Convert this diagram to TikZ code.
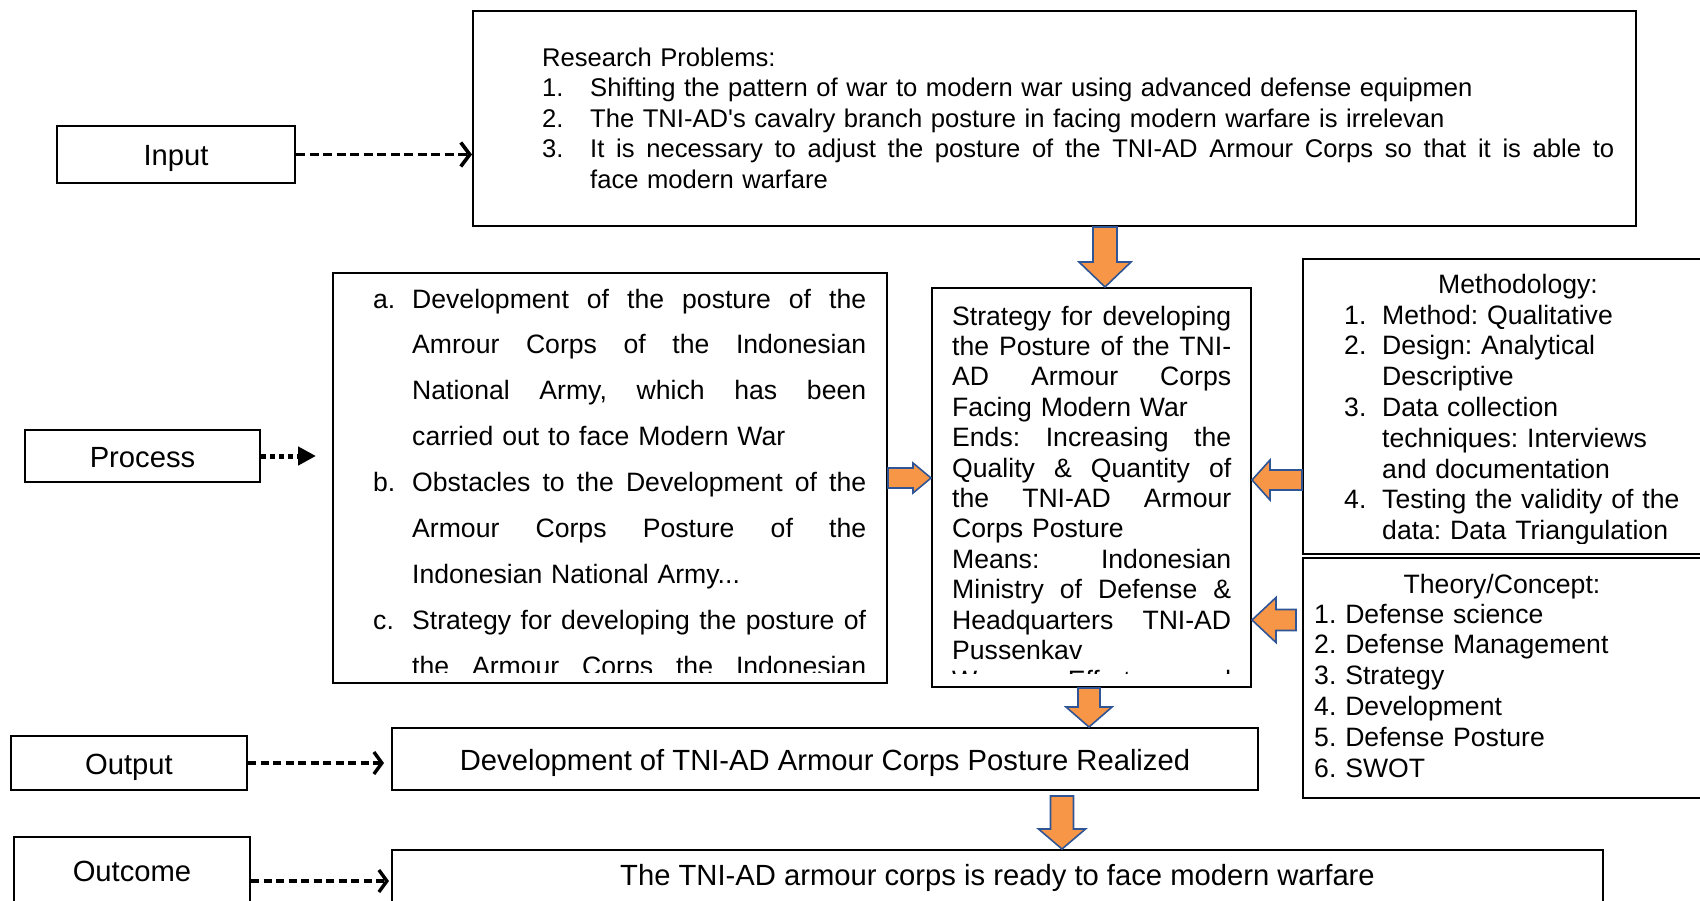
\documentclass[tikz,border=0pt]{standalone}
\usepackage{fontspec}
\setmainfont{Liberation Sans}
\usetikzlibrary{calc,arrows.meta}

\definecolor{arrfill}{HTML}{F79646}
\definecolor{arrline}{HTML}{2F5597}
\frenchspacing

% justified line of given width, hanging label + left / justified line
\newcommand{\jline}[2]{{\spaceskip=0.278em plus 1fil\relax\makebox[#1][s]{#2}}}
\newcommand{\hangl}[3]{\makebox[#1][l]{#2}#3}
\newcommand{\hangj}[4]{\makebox[#1][l]{#2}\jline{#3}{#4}}
% block arrow: tail, tip, shaft half width, head half width, head length
\newcommand{\blockarrow}[5]{%
  \path ($(#2)!#5!(#1)$) coordinate (hb);
  \draw[barrow] ($(#1)!#3!90:(#2)$) -- ($(hb)!#3!90:(#2)$) -- ($(hb)!#4!90:(#2)$)
    -- (#2) -- ($(hb)!#4!-90:(#2)$) -- ($(hb)!#3!-90:(#2)$) -- ($(#1)!#3!-90:(#2)$) -- cycle;}

\begin{document}
\begin{tikzpicture}[x=1pt, y=-1pt,
    box/.style={draw, line width=2pt, inner sep=0pt},
    lbl/.style={box, font=\fontsize{29.2pt}{34pt}\selectfont, text height=22pt, text depth=0pt},
    txt/.style={inner sep=0pt, anchor=base west, align=left},
    barrow/.style={fill=arrfill, draw=arrline, line width=1.6pt, line join=miter},
    dasharrow/.style={line width=3.6pt, dash pattern=on 9pt off 4.5pt, -{Straight Barb[length=9pt, width=24pt]}},
    dasharrowb/.style={line width=3.4pt, dash pattern=on 8pt off 4.5pt, -{Straight Barb[length=8pt, width=22pt]}},
    dotarrow/.style={line width=5pt, dash pattern=on 5pt off 4pt, -{Triangle[length=18pt, width=18pt]}}]
  \useasboundingbox (0,0) rectangle (1700,900);

  % left column
  \node[lbl, minimum width=238pt, minimum height=57pt] (input) at (176,154.5) {Input};
  \node[lbl, minimum width=235pt, minimum height=52pt] (process) at (142.5,456) {Process};
  \node[lbl, minimum width=236pt, minimum height=54pt] (output) at (129,763) {Output};
  \node[lbl, minimum width=236pt, minimum height=66pt] (outcome) at (132,870) {Outcome};

  % research problems
  \node[box, minimum width=1163pt, minimum height=215pt] (res) at (1054.5,118.5) {};
  \node[txt, text width=1072pt, font=\fontsize{25.6pt}{30.5pt}\selectfont] (restext) at (542,66) {%
    Research Problems:\\
    \hangl{48pt}{1.}{Shifting the pattern of war to modern war using advanced defense equipmen}\\
    \hangl{48pt}{2.}{The TNI-AD\textquotesingle s cavalry branch posture in facing modern warfare is irrelevan}\\
    \hangj{48pt}{3.}{1024pt}{It is necessary to adjust the posture of the TNI-AD Armour Corps so that it is able to}\\
    \hspace*{48pt}face modern warfare};

  % process content
  \node[box, minimum width=554pt, minimum height=410pt] (proc) at (610,478) {};
  \begin{scope}
    \clip (335,275) rectangle (885,672);
    \node[txt, text width=493pt, font=\fontsize{26.6pt}{45.9pt}\selectfont] (proctext) at (373,308) {%
      \hangj{39pt}{a.}{454pt}{Development of the posture of the}\\
      \hangj{39pt}{}{454pt}{Amrour Corps of the Indonesian}\\
      \hangj{39pt}{}{454pt}{National Army, which has been}\\
      \hangl{39pt}{}{carried out to face Modern War}\\
      \hangj{39pt}{b.}{454pt}{Obstacles to the Development of the}\\
      \hangj{39pt}{}{454pt}{Armour Corps Posture of the}\\
      \hangl{39pt}{}{Indonesian National Army...}\\
      \hangj{39pt}{c.}{454pt}{Strategy for developing the posture of}\\
      \hangj{39pt}{}{454pt}{the Armour Corps the Indonesian}};
  \end{scope}

  % strategy
  \node[box, minimum width=319pt, minimum height=399pt] (strat) at (1091.5,487.5) {};
  \begin{scope}
    \clip (934,290) rectangle (1249,673.5);
    \node[txt, text width=279pt, font=\fontsize{26.6pt}{30.4pt}\selectfont] (strattext) at (952,325) {%
      \jline{279pt}{Strategy for developing}\\
      \jline{279pt}{the Posture of the TNI-}\\
      \jline{279pt}{AD Armour Corps}\\
      Facing Modern War\\
      \jline{279pt}{Ends: Increasing the}\\
      \jline{279pt}{Quality \& Quantity of}\\
      \jline{279pt}{the TNI-AD Armour}\\
      Corps Posture\\
      \jline{279pt}{Means: Indonesian}\\
      \jline{279pt}{Ministry of Defense \&}\\
      \jline{279pt}{Headquarters TNI-AD}\\
      Pussenkav\\
      \jline{279pt}{Ways: Efforts and}};
  \end{scope}

  % methodology
  \node[box, minimum width=407pt, minimum height=295pt] (method) at (1506.5,406.5) {};
  \node[inner sep=0pt, anchor=base, font=\fontsize{26.6pt}{30.8pt}\selectfont] (methodtitle) at (1518,293) {Methodology:};
  \begin{scope}
    \clip (1305,261) rectangle (1700,543);
    \node[txt, text width=340pt, font=\fontsize{26.6pt}{30.8pt}\selectfont] (methodtext) at (1344,324) {%
      \hangl{38pt}{1.}{Method: Qualitative}\\
      \hangl{38pt}{2.}{Design: Analytical}\\
      \hspace*{38pt}Descriptive\\
      \hangl{38pt}{3.}{Data collection}\\
      \hspace*{38pt}techniques: Interviews\\
      \hspace*{38pt}and documentation\\
      \hangl{38pt}{4.}{Testing the validity of the}\\
      \hspace*{38pt}data: Data Triangulation};
  \end{scope}

  % theory
  \node[box, minimum width=407pt, minimum height=240pt] (theory) at (1506.5,678) {};
  \node[inner sep=0pt, anchor=base, font=\fontsize{26.6pt}{30.8pt}\selectfont] (theorytitle) at (1502,593) {Theory/Concept:};
  \node[txt, text width=340pt, font=\fontsize{26.6pt}{30.8pt}\selectfont] (theorytext) at (1314,623) {%
    1. Defense science\\
    2. Defense Management\\
    3. Strategy\\
    4. Development\\
    5. Defense Posture\\
    6. SWOT};

  % output / outcome
  \node[lbl, minimum width=866pt, minimum height=62pt] (outbox) at (825,759) {Development of TNI-AD Armour Corps Posture Realized};
  \node[lbl, minimum width=1211pt, minimum height=62pt, text depth=14pt] (outcomebox) at (997.5,881) {The TNI-AD armour corps is ready to face modern warfare};

  % dashed connectors
  \draw[dasharrow] (input.east) -- (input.east -| res.west);
  \draw[dotarrow, shorten >=16pt] (process.east) -- (process.east -| proc.west);
  \draw[dasharrowb, shorten >=7pt] (output.east) -- (output.east -| outbox.west);
  \draw[dasharrowb, shorten >=2pt] (outcome.east |- outcomebox.west) -- (outcomebox.west);

  % block arrows
  \coordinate (a1) at ($(res.south)+(50.5,0)$);
  \coordinate (a1e) at (a1 |- strat.north);
  \coordinate (a2) at (proc.east);
  \coordinate (a2e) at (proc.east -| strat.west);
  \coordinate (a3) at ($(method.west)+(0,73.5)$);
  \coordinate (a3e) at (a3 -| strat.east);
  \coordinate (a4) at ($(theory.west)+(-6,-58)$);
  \coordinate (a4e) at (a4 -| strat.east);
  \coordinate (a5) at ($(strat.south)+(-2.5,0)$);
  \coordinate (a5e) at (a5 |- outbox.north);
  \coordinate (a6) at ($(outbox.south)+(237,5)$);
  \coordinate (a6e) at (a6 |- outcomebox.north);
  \blockarrow{a1}{a1e}{12pt}{26pt}{25pt}
  \blockarrow{a2}{a2e}{10pt}{15pt}{18pt}
  \blockarrow{a3}{a3e}{10pt}{20pt}{18pt}
  \blockarrow{a4}{a4e}{10.5pt}{22.5pt}{24pt}
  \blockarrow{a5}{a5e}{11pt}{23pt}{20pt}
  \blockarrow{a6}{a6e}{11.5pt}{23.5pt}{20pt}
\end{tikzpicture}
\end{document}
